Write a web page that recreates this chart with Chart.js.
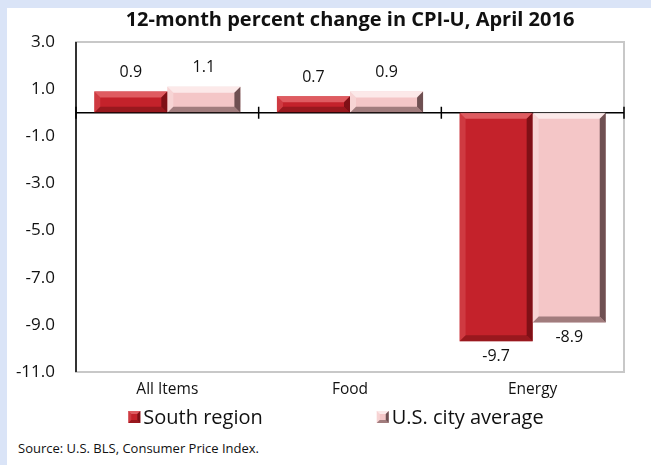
<!DOCTYPE html>
<html>
<head>
<meta charset="utf-8">
<script src="https://cdn.jsdelivr.net/npm/chart.js@4"></script>
<style>
  html, body { margin: 0; padding: 0; }
  body { width: 651px; height: 465px; background: #dae4f7; position: relative; overflow: hidden; }
  #panel { position: absolute; left: 7px; top: 8px; width: 644px; height: 457px; background: #fff; }
  #chart { position: absolute; left: 0; top: 0; }
  #source { position: absolute; left: 11px; top: 431px; font: 13px 'Open Sans', sans-serif; color: #111; }
</style>
</head>
<body>
<div id="panel">
  <canvas id="chart" width="644" height="428"></canvas>
  <div id="source">Source: U.S. BLS, Consumer Price Index.</div>
</div>
<script>
// chart data
const categories = ['All Items', 'Food', 'Energy'];
const southRegion = [0.9, 0.7, -9.7];
const usCityAverage = [1.1, 0.9, -8.9];
const yTicks = { min: -11, max: 3, step: 2 };

const FONT = "'Open Sans', 'Noto Sans', sans-serif";

// bevel shading colours for each series: [main, light, dark]
const shades = [
  ['#c4222b', '#e4666b', '#6e0d12'],
  ['#f4c6c7', '#fdeeee', '#4e3234'],
];

function bevel(ctx, l, t, r, b, di, e) {
  const [, light, dark] = shades[di];
  ctx.save();
  ctx.globalAlpha = 0.85;
  ctx.fillStyle = light;
  ctx.beginPath();
  ctx.moveTo(l, t); ctx.lineTo(r, t); ctx.lineTo(r - e, t + e); ctx.lineTo(l + e, t + e);
  ctx.fill();
  ctx.globalAlpha = 0.35;
  ctx.beginPath();
  ctx.moveTo(l, t); ctx.lineTo(l + e, t + e); ctx.lineTo(l + e, b - e); ctx.lineTo(l, b);
  ctx.fill();
  ctx.globalAlpha = 0.8;
  ctx.fillStyle = dark;
  ctx.beginPath();
  ctx.moveTo(r, t); ctx.lineTo(r, b); ctx.lineTo(r - e, b - e); ctx.lineTo(r - e, t + e);
  ctx.fill();
  ctx.globalAlpha = 0.5;
  ctx.beginPath();
  ctx.moveTo(l, b); ctx.lineTo(r, b); ctx.lineTo(r - e, b - e); ctx.lineTo(l + e, b - e);
  ctx.fill();
  ctx.restore();
}

// draws the frame, zero line and category tick marks
const framePlugin = {
  id: 'frame',
  beforeDatasetsDraw(chart) {
    const { ctx, chartArea: a } = chart;
    ctx.save();
    ctx.strokeStyle = '#c8c8c8';
    ctx.lineWidth = 2;
    ctx.strokeRect(a.left, a.top, a.right - a.left, a.bottom - a.top);
    ctx.strokeStyle = '#000';
    ctx.lineWidth = 1.5;
    ctx.beginPath();
    ctx.moveTo(a.left, a.top);
    ctx.lineTo(a.left, a.bottom);
    ctx.stroke();
    ctx.restore();
  },
  afterDatasetsDraw(chart) {
    const { ctx, chartArea: a, scales } = chart;
    const y0 = scales.y.getPixelForValue(0);
    const x = scales.x;
    const half = (x.getPixelForTick(1) - x.getPixelForTick(0)) / 2;
    ctx.save();
    ctx.strokeStyle = '#000';
    ctx.lineWidth = 1.5;
    ctx.beginPath();
    ctx.moveTo(a.left, y0);
    ctx.lineTo(a.right, y0);
    for (let i = 0; i <= categories.length; i++) {
      const px = x.getPixelForTick(0) - half + i * half * 2;
      ctx.moveTo(px, y0 - 6);
      ctx.lineTo(px, y0 + 6);
    }
    ctx.stroke();
    ctx.restore();
  }
};

// bevel look and value labels on the bars
const barPlugin = {
  id: 'bars',
  afterDatasetsDraw(chart) {
    const ctx = chart.ctx;
    chart.data.datasets.forEach((ds, di) => {
      chart.getDatasetMeta(di).data.forEach((bar, i) => {
        const l = bar.x - bar.width / 2, r = bar.x + bar.width / 2;
        const t = Math.min(bar.y, bar.base), b = Math.max(bar.y, bar.base);
        bevel(ctx, l, t, r, b, di, Math.min(6, (b - t) / 2));

        const v = ds.data[i];
        ctx.save();
        ctx.fillStyle = '#111';
        ctx.font = '16px ' + FONT;
        ctx.textAlign = 'center';
        ctx.textBaseline = 'middle';
        ctx.fillText(v.toFixed(1), bar.x, v >= 0 ? t - 19 : b + 15);
        ctx.restore();
      });
    });
  }
};

// legend drawn below the category labels, spaced like the original
const legendPlugin = {
  id: 'customLegend',
  afterDraw(chart) {
    const ctx = chart.ctx;
    const y = chart.height - 19;
    const gap = 114, box = 12;
    ctx.save();
    ctx.font = '20px ' + FONT;
    ctx.textBaseline = 'middle';
    ctx.fillStyle = '#111';
    const items = chart.data.datasets.map((ds) => ({ ds, w: box + 3 + ctx.measureText(ds.label).width }));
    const total = items.reduce((s, it) => s + it.w, 0) + gap * (items.length - 1);
    let x = (chart.width - total) / 2 + 7;
    items.forEach((it, di) => {
      ctx.fillStyle = it.ds.backgroundColor;
      ctx.fillRect(x, y - box / 2, box, box);
      bevel(ctx, x, y - box / 2, x + box, y + box / 2, di, 3);
      ctx.fillStyle = '#111';
      ctx.fillText(it.ds.label, x + box + 3, y + 1);
      x += it.w + gap;
    });
    ctx.restore();
  }
};

new Chart(document.getElementById('chart'), {
  type: 'bar',
  data: {
    labels: categories,
    datasets: [
      { label: 'South region', data: southRegion, backgroundColor: shades[0][0] },
      { label: 'U.S. city average', data: usCityAverage, backgroundColor: shades[1][0] },
    ],
  },
  options: {
    responsive: false,
    animation: false,
    categoryPercentage: 0.8,
    barPercentage: 1.0,
    layout: { padding: { left: 0, right: 27, top: 0, bottom: 38 } },
    scales: {
      x: {
        afterFit(scale) { scale.height = 26; },
        grid: { display: false, drawTicks: false },
        border: { display: false },
        ticks: { color: '#111', padding: 8, font: { family: FONT, size: 15.5 } },
      },
      y: {
        min: yTicks.min,
        max: yTicks.max,
        afterFit(scale) { scale.width = 69; },
        grid: { display: false, drawTicks: false },
        border: { display: false },
        ticks: {
          stepSize: yTicks.step,
          padding: 21,
          color: '#111',
          font: { family: FONT, size: 17 },
          callback: (v) => v.toFixed(1),
        },
      },
    },
    plugins: {
      title: {
        display: true,
        text: '12-month percent change in CPI-U, April 2016',
        fullSize: false,
        color: '#111',
        font: { family: FONT, size: 20, weight: 'bold' },
        padding: { top: 0, bottom: 10 },
      },
      legend: { display: false },
      tooltip: { enabled: false },
    },
  },
  plugins: [framePlugin, barPlugin, legendPlugin],
});
</script>
</body>
</html>
